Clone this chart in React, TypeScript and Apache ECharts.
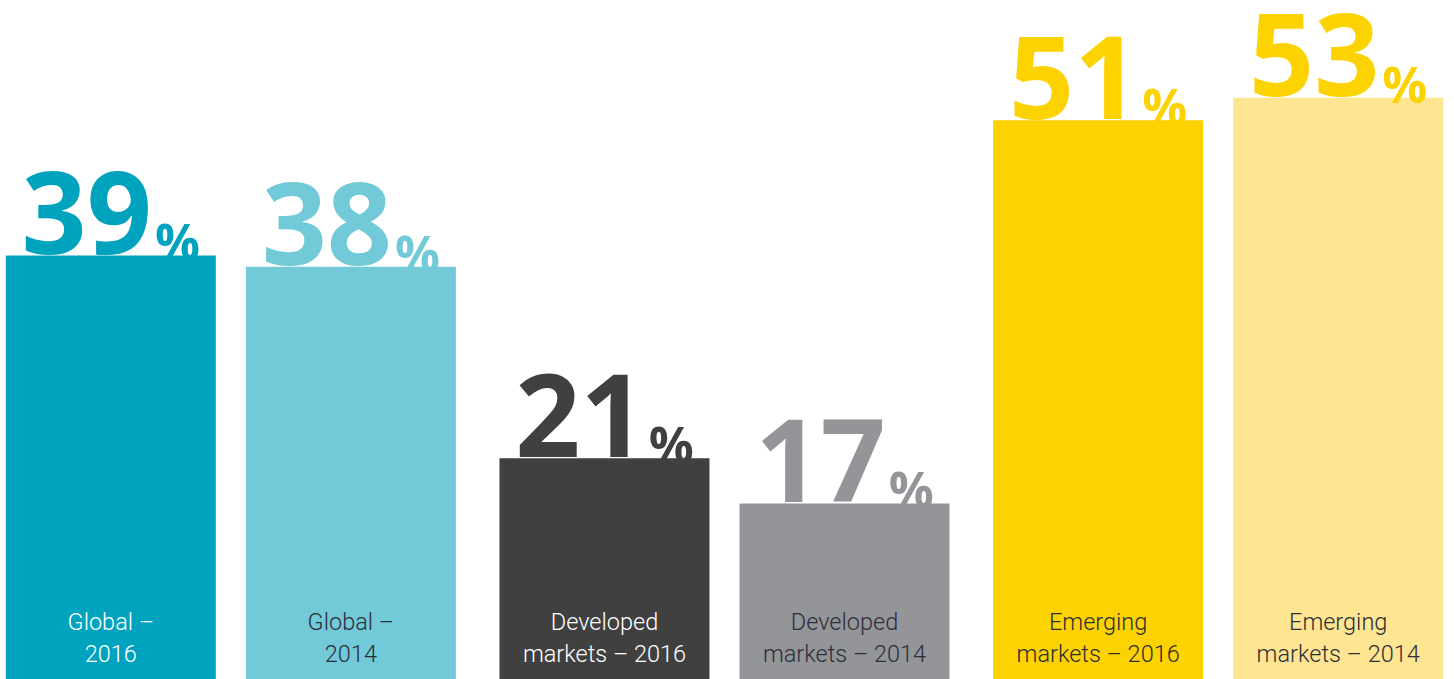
import React, { useEffect, useRef } from "react";
import * as echarts from "echarts";

const groups = ["Global", "Developed markets", "Emerging markets"];
const values2016 = [39, 21, 51];
const values2014 = [38, 17, 53];
const names2016 = ["Global –\n2016", "Developed\nmarkets – 2016", "Emerging\nmarkets – 2016"];
const names2014 = ["Global –\n2014", "Developed\nmarkets – 2014", "Emerging\nmarkets – 2014"];
const barColors2016 = ["#00A3BE", "#404041", "#FCD200"];
const barColors2014 = ["#72C9D8", "#939598", "#FEE592"];
const numColors2016 = ["#00A3BE", "#404041", "#FCD200"];
const numColors2014 = ["#72C9D8", "#939598", "#FCD200"];
const nameColors2016 = ["#FFFFFF", "#FFFFFF", "#2E2E38"];
const nameColors2014 = ["#2E2E38", "#2E2E38", "#2E2E38"];

const NUM_FONT = "'Open Sans', 'Noto Sans', sans-serif";

function numberLabel(color: string) {
  return {
    show: true,
    position: "top",
    distance: -11,
    formatter: (p: any) => `{n|${p.value}}{p|%}`,
    rich: {
      n: { fontFamily: NUM_FONT, fontWeight: "bold", fontSize: 114, lineHeight: 90, color, verticalAlign: "bottom" },
      p: { fontFamily: NUM_FONT, fontWeight: "bold", fontSize: 50, lineHeight: 48, color, verticalAlign: "bottom", padding: [0, 0, 0, 3] },
    },
  };
}

function mainSeries(values: number[], barColors: string[], numColors: string[], stack: string) {
  return {
    type: "bar",
    stack,
    barWidth: 210,
    barGap: "14.3%",
    z: 2,
    data: values.map((v, i) => ({
      value: v,
      itemStyle: { color: barColors[i] },
      label: numberLabel(numColors[i]),
    })),
  };
}

function nameSeries(names: string[], colors: string[], stack: string) {
  return {
    type: "bar",
    stack,
    barWidth: 210,
    barGap: "14.3%",
    z: 5,
    data: names.map((n, i) => ({
      value: 0,
      itemStyle: { color: "transparent" },
      label: {
        show: true,
        position: "top",
        distance: 25,
        formatter: n,
        color: colors[i],
        fontFamily: "Roboto, 'Noto Sans', sans-serif",
        fontWeight: 300,
        fontSize: 23.5,
        lineHeight: 32,
        align: "center",
      },
    })),
  };
}

export default function App() {
  const ref = useRef<HTMLDivElement>(null);
  useEffect(() => {
    if (!ref.current) return;
    const chart = echarts.init(ref.current, undefined, { renderer: "svg" });
    chart.setOption({
      animation: false,
      grid: { left: 0, right: 0, top: 18.8, bottom: 5, containLabel: false },
      xAxis: {
        type: "category",
        data: groups,
        axisLine: { show: false },
        axisTick: { show: false },
        axisLabel: { show: false },
      },
      yAxis: {
        type: "value",
        min: 0,
        max: 60,
        show: false,
        splitLine: { show: false },
      },
      series: [
        nameSeries(names2016, nameColors2016, "a"),
        mainSeries(values2016, barColors2016, numColors2016, "a"),
        nameSeries(names2014, nameColors2014, "b"),
        mainSeries(values2014, barColors2014, numColors2014, "b"),
      ],
    });
    return () => chart.dispose();
  }, []);
  return (
    <div
      ref={ref}
      style={{ position: "fixed", left: -15.9, top: 0, width: 1481.25, height: 700, background: "#FFFFFF" }}
    />
  );
}
